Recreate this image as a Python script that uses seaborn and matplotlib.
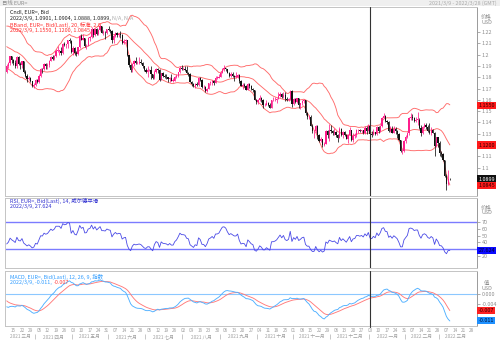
import numpy as np
import pandas as pd
import matplotlib
matplotlib.use("Agg")
import matplotlib.pyplot as plt
import matplotlib.transforms as mtransforms
import seaborn as sns

# ---------------- data ----------------
# warm-up closes 2021-01-04 .. 2021-03-08 (feed the indicators, not drawn)
warmup_closes = [
    1.2250, 1.2295, 1.2325, 1.2270, 1.2220,
    1.2150, 1.2205, 1.2155, 1.2155, 1.2080,
    1.2075, 1.2130, 1.2105, 1.2165, 1.2170,
    1.2140, 1.2160, 1.2110, 1.2125, 1.2135,
    1.2060, 1.2040, 1.2035, 1.1965, 1.2045,
    1.2050, 1.2120, 1.2120, 1.2130, 1.2120,
    1.2130, 1.2105, 1.2040, 1.2090, 1.2120,
    1.2155, 1.2150, 1.2165, 1.2175, 1.2075,
    1.2045, 1.2090, 1.2065, 1.1970, 1.1915,
    1.1845,
]

# daily closes 2021-03-09 .. 2022-03-09 (business days)
closes = [
    1.1900, 1.1925, 1.1985, 1.1952,
    1.1930, 1.1900, 1.1977, 1.1915, 1.1905,
    1.1940, 1.1850, 1.1815, 1.1780, 1.1795,
    1.1765, 1.1720, 1.1730, 1.1775, 1.1760,
    1.1815, 1.1875, 1.1870, 1.1915, 1.1900,
    1.1910, 1.1945, 1.1980, 1.1965, 1.1985,
    1.2035, 1.2035, 1.2035, 1.2015, 1.2095,
    1.2085, 1.2090, 1.2125, 1.2120, 1.2020,
    1.2060, 1.2015, 1.2005, 1.2065, 1.2165,
    1.2130, 1.2150, 1.2075, 1.2080, 1.2145,
    1.2155, 1.2225, 1.2175, 1.2225, 1.2180,
    1.2215, 1.2250, 1.2195, 1.2195, 1.2190,
    1.2225, 1.2215, 1.2210, 1.2125, 1.2165,
    1.2190, 1.2170, 1.2180, 1.2175, 1.2105,
    1.2120, 1.2125, 1.1995, 1.1905, 1.1860,
    1.1915, 1.1940, 1.1925, 1.1930, 1.1935,
    1.1925, 1.1895, 1.1860, 1.1850, 1.1865,
    1.1865, 1.1825, 1.1790, 1.1845, 1.1875,
    1.1860, 1.1775, 1.1835, 1.1810, 1.1805,
    1.1800, 1.1780, 1.1795, 1.1770, 1.1770,
    1.1800, 1.1815, 1.1845, 1.1885, 1.1870,
    1.1870, 1.1865, 1.1835, 1.1830, 1.1760,
    1.1740, 1.1720, 1.1740, 1.1730, 1.1795,
    1.1775, 1.1710, 1.1710, 1.1675, 1.1700,
    1.1745, 1.1755, 1.1770, 1.1750, 1.1795,
    1.1795, 1.1805, 1.1840, 1.1875, 1.1880,
    1.1870, 1.1840, 1.1815, 1.1825, 1.1815,
    1.1805, 1.1805, 1.1820, 1.1765, 1.1725,
    1.1730, 1.1725, 1.1690, 1.1740, 1.1720,
    1.1695, 1.1685, 1.1600, 1.1580, 1.1595,
    1.1620, 1.1600, 1.1555, 1.1555, 1.1570,
    1.1550, 1.1530, 1.1595, 1.1595, 1.1600,
    1.1610, 1.1630, 1.1650, 1.1625, 1.1645,
    1.1605, 1.1595, 1.1605, 1.1680, 1.1560,
    1.1605, 1.1580, 1.1615, 1.1555, 1.1570,
    1.1590, 1.1595, 1.1480, 1.1445, 1.1445,
    1.1370, 1.1320, 1.1320, 1.1370, 1.1290,
    1.1235, 1.1250, 1.1200, 1.1210, 1.1320,
    1.1290, 1.1335, 1.1320, 1.1305, 1.1315,
    1.1285, 1.1265, 1.1345, 1.1290, 1.1315,
    1.1285, 1.1255, 1.1290, 1.1330, 1.1240,
    1.1280, 1.1285, 1.1330, 1.1330, 1.1320,
    1.1330, 1.1310, 1.1350, 1.1325, 1.1370,
    1.1295, 1.1285, 1.1315, 1.1295, 1.1360,
    1.1325, 1.1365, 1.1440, 1.1455, 1.1410,
    1.1405, 1.1325, 1.1345, 1.1310, 1.1345,
    1.1325, 1.1300, 1.1240, 1.1145, 1.1145,
    1.1235, 1.1270, 1.1305, 1.1440, 1.1450,
    1.1440, 1.1415, 1.1425, 1.1425, 1.1350,
    1.1305, 1.1360, 1.1375, 1.1360, 1.1320,
    1.1305, 1.1330, 1.1310, 1.1195, 1.1270,
    1.1220, 1.1125, 1.1120, 1.1065, 1.0930,
    1.0855, 1.0900, 1.0899,
]

highs = [
    1.1915, 1.1935, 1.1990, 1.1990,
    1.1960, 1.1950, 1.1985, 1.1990, 1.1935,
    1.1945, 1.1945, 1.1860, 1.1830, 1.1810,
    1.1800, 1.1770, 1.1750, 1.1785, 1.1780,
    1.1825, 1.1880, 1.1885, 1.1925, 1.1930,
    1.1925, 1.1950, 1.1990, 1.1995, 1.1995,
    1.2050, 1.2080, 1.2040, 1.2070, 1.2100,
    1.2115, 1.2095, 1.2130, 1.2150, 1.2125,
    1.2075, 1.2070, 1.2030, 1.2070, 1.2170,
    1.2180, 1.2180, 1.2150, 1.2095, 1.2155,
    1.2165, 1.2245, 1.2230, 1.2235, 1.2235,
    1.2225, 1.2265, 1.2255, 1.2215, 1.2205,
    1.2230, 1.2255, 1.2230, 1.2215, 1.2185,
    1.2200, 1.2200, 1.2195, 1.2210, 1.2180,
    1.2135, 1.2140, 1.2130, 1.2000, 1.1920,
    1.1925, 1.1955, 1.1975, 1.1945, 1.1975,
    1.1960, 1.1935, 1.1900, 1.1885, 1.1895,
    1.1875, 1.1895, 1.1830, 1.1865, 1.1880,
    1.1880, 1.1870, 1.1840, 1.1850, 1.1825,
    1.1830, 1.1805, 1.1805, 1.1830, 1.1790,
    1.1810, 1.1830, 1.1850, 1.1895, 1.1910,
    1.1890, 1.1895, 1.1900, 1.1845, 1.1840,
    1.1765, 1.1745, 1.1745, 1.1755, 1.1800,
    1.1800, 1.1780, 1.1730, 1.1720, 1.1705,
    1.1750, 1.1765, 1.1775, 1.1775, 1.1810,
    1.1810, 1.1830, 1.1855, 1.1880, 1.1910,
    1.1885, 1.1875, 1.1845, 1.1845, 1.1845,
    1.1820, 1.1845, 1.1830, 1.1825, 1.1775,
    1.1750, 1.1745, 1.1735, 1.1750, 1.1745,
    1.1735, 1.1705, 1.1690, 1.1610, 1.1610,
    1.1640, 1.1625, 1.1605, 1.1575, 1.1595,
    1.1580, 1.1570, 1.1600, 1.1625, 1.1625,
    1.1620, 1.1665, 1.1665, 1.1660, 1.1670,
    1.1665, 1.1625, 1.1620, 1.1690, 1.1690,
    1.1615, 1.1615, 1.1620, 1.1620, 1.1575,
    1.1595, 1.1610, 1.1600, 1.1495, 1.1465,
    1.1465, 1.1385, 1.1335, 1.1375, 1.1375,
    1.1300, 1.1275, 1.1255, 1.1230, 1.1330,
    1.1330, 1.1385, 1.1380, 1.1335, 1.1350,
    1.1320, 1.1295, 1.1355, 1.1350, 1.1325,
    1.1325, 1.1300, 1.1295, 1.1360, 1.1335,
    1.1305, 1.1305, 1.1345, 1.1345, 1.1340,
    1.1335, 1.1335, 1.1370, 1.1370, 1.1385,
    1.1375, 1.1320, 1.1345, 1.1315, 1.1365,
    1.1365, 1.1375, 1.1450, 1.1480, 1.1465,
    1.1425, 1.1410, 1.1365, 1.1370, 1.1365,
    1.1355, 1.1330, 1.1305, 1.1245, 1.1165,
    1.1240, 1.1285, 1.1315, 1.1450, 1.1485,
    1.1470, 1.1445, 1.1450, 1.1495, 1.1440,
    1.1375, 1.1370, 1.1395, 1.1395, 1.1375,
    1.1395, 1.1360, 1.1345, 1.1315, 1.1275,
    1.1275, 1.1235, 1.1150, 1.1125, 1.1070,
    1.0945, 1.0975, 1.0904,
]

lows = [
    1.1835, 1.1880, 1.1910, 1.1930,
    1.1910, 1.1885, 1.1885, 1.1905, 1.1875,
    1.1880, 1.1840, 1.1805, 1.1760, 1.1775,
    1.1760, 1.1710, 1.1705, 1.1725, 1.1745,
    1.1745, 1.1800, 1.1835, 1.1865, 1.1870,
    1.1875, 1.1890, 1.1940, 1.1955, 1.1950,
    1.1975, 1.2020, 1.2000, 1.1995, 1.2005,
    1.2075, 1.2060, 1.2060, 1.2105, 1.2015,
    1.2000, 1.1995, 1.1985, 1.2000, 1.2055,
    1.2125, 1.2125, 1.2070, 1.2050, 1.2075,
    1.2120, 1.2150, 1.2155, 1.2165, 1.2170,
    1.2175, 1.2210, 1.2190, 1.2175, 1.2135,
    1.2185, 1.2205, 1.2195, 1.2105, 1.2105,
    1.2155, 1.2160, 1.2160, 1.2145, 1.2095,
    1.2090, 1.2090, 1.1985, 1.1890, 1.1845,
    1.1845, 1.1895, 1.1915, 1.1915, 1.1920,
    1.1915, 1.1885, 1.1855, 1.1835, 1.1805,
    1.1855, 1.1780, 1.1780, 1.1780, 1.1840,
    1.1835, 1.1770, 1.1775, 1.1805, 1.1795,
    1.1785, 1.1760, 1.1755, 1.1765, 1.1755,
    1.1765, 1.1790, 1.1800, 1.1840, 1.1860,
    1.1860, 1.1855, 1.1825, 1.1815, 1.1755,
    1.1725, 1.1710, 1.1705, 1.1720, 1.1725,
    1.1765, 1.1705, 1.1695, 1.1665, 1.1665,
    1.1695, 1.1730, 1.1735, 1.1735, 1.1745,
    1.1780, 1.1790, 1.1800, 1.1835, 1.1855,
    1.1855, 1.1835, 1.1800, 1.1805, 1.1805,
    1.1770, 1.1795, 1.1790, 1.1750, 1.1720,
    1.1700, 1.1715, 1.1685, 1.1685, 1.1705,
    1.1690, 1.1670, 1.1595, 1.1565, 1.1565,
    1.1585, 1.1580, 1.1530, 1.1545, 1.1550,
    1.1545, 1.1525, 1.1525, 1.1585, 1.1585,
    1.1570, 1.1605, 1.1625, 1.1620, 1.1620,
    1.1590, 1.1590, 1.1585, 1.1595, 1.1535,
    1.1555, 1.1570, 1.1570, 1.1530, 1.1515,
    1.1555, 1.1575, 1.1465, 1.1430, 1.1430,
    1.1365, 1.1310, 1.1265, 1.1310, 1.1250,
    1.1225, 1.1225, 1.1185, 1.1195, 1.1205,
    1.1260, 1.1235, 1.1305, 1.1290, 1.1290,
    1.1270, 1.1230, 1.1260, 1.1280, 1.1265,
    1.1280, 1.1250, 1.1220, 1.1285, 1.1235,
    1.1225, 1.1265, 1.1270, 1.1310, 1.1315,
    1.1310, 1.1300, 1.1295, 1.1300, 1.1320,
    1.1285, 1.1275, 1.1285, 1.1285, 1.1290,
    1.1305, 1.1315, 1.1360, 1.1435, 1.1400,
    1.1385, 1.1315, 1.1315, 1.1305, 1.1305,
    1.1295, 1.1265, 1.1235, 1.1140, 1.1120,
    1.1140, 1.1215, 1.1260, 1.1290, 1.1420,
    1.1420, 1.1400, 1.1400, 1.1375, 1.1340,
    1.1280, 1.1300, 1.1350, 1.1345, 1.1315,
    1.1300, 1.1290, 1.1305, 1.1105, 1.1185,
    1.1180, 1.1105, 1.1090, 1.1055, 1.0920,
    1.0805, 1.0850, 1.0888,
]
last_open = 1.0901

start_date = "2021-03-09"
end_date = "2022-03-28"
cursor_date = "2022-01-03"
month_names = ["一月", "二月", "三月", "四月", "五月", "六月",
               "七月", "八月", "九月", "十月", "十一月", "十二月"]

main_ticks = [1.10, 1.11, 1.13, 1.14, 1.15, 1.16, 1.17, 1.18, 1.19, 1.20, 1.21, 1.22]
rsi_ticks = [20, 40, 50, 60, 70]
macd_ticks = [0.000, -0.004]

bb_last = [1.1550, 1.1200, 1.0845]
price_last = 1.0899
rsi_last = 27.624
macd_last = -0.011
signal_last = -0.007

# ---------------- indicators ----------------
n = min(len(closes), len(highs), len(lows))
closes, highs, lows = closes[:n], highs[:n], lows[:n]
all_close = pd.Series(warmup_closes + closes)
w = len(warmup_closes)
mid = all_close.rolling(20).mean()
sd = all_close.rolling(20).std(ddof=0)
upper = (mid + 2 * sd).iloc[w:].to_numpy()
lower = (mid - 2 * sd).iloc[w:].to_numpy()
mid = mid.iloc[w:].to_numpy()

delta = all_close.diff()
gain = delta.clip(lower=0).ewm(alpha=1 / 14, adjust=False).mean()
loss = (-delta.clip(upper=0)).ewm(alpha=1 / 14, adjust=False).mean()
rsi = (100 - 100 / (1 + gain / loss)).iloc[w:].to_numpy()

ema12 = all_close.ewm(span=12, adjust=False).mean()
ema26 = all_close.ewm(span=26, adjust=False).mean()
macd_s = ema12 - ema26
sig_s = macd_s.ewm(span=9, adjust=False).mean()
macd = macd_s.iloc[w:].to_numpy()
sig = sig_s.iloc[w:].to_numpy()

opens = [warmup_closes[-1]] + closes[:-1]
opens[-1] = last_open

dates = pd.bdate_range(start_date, end_date)
idx = np.arange(n)
cursor_idx = int(np.where(dates == pd.Timestamp(cursor_date))[0][0])

# ---------------- style ----------------
sns.set_theme(style="white")
plt.rcParams["font.family"] = ["Noto Sans CJK SC", "DejaVu Sans"]
plt.rcParams["axes.unicode_minus"] = False

W, H = 500, 340
fig = plt.figure(figsize=(W / 100, H / 100), dpi=100)
fig.patch.set_facecolor("white")
renderer = fig.canvas.get_renderer()


def rect(x0, y0, x1, y1):
    return [x0 / W, 1 - y1 / H, (x1 - x0) / W, (y1 - y0) / H]


def ftext(x, y, s, **kw):
    return fig.text(x / W, 1 - y / H, s, **kw)


def pieces(x, y, parts, **kw):
    """Draw consecutive coloured text pieces on one line."""
    for s, col in parts:
        t = ftext(x, y, s, color=col, **kw)
        bb = t.get_window_extent(renderer=renderer)
        x += bb.width + 1.5


UP = "#ff1e8c"
DOWN = "#111111"
BB = "#ff6b6b"
GRAY = "#8c8c8c"
SPINE = "#c4c4c4"
XL = (-1, 277)
FS = 3.9

# header bar
fig.patches.append(plt.Rectangle((0, 1 - 6 / H), 1, 6 / H, transform=fig.transFigure,
                                 fc="#efefef", ec="none", zorder=0))
ftext(2, 3.2, "日线 EUR=", fontsize=FS, color=GRAY, va="center")
ftext(497, 3.2, "2021/3/9 - 2022/3/28 (GMT)", fontsize=FS, color="#aaaaaa", va="center", ha="right")

ax = fig.add_axes(rect(5, 7, 477, 196))
ax_rsi = fig.add_axes(rect(5, 198, 477, 268))
ax_macd = fig.add_axes(rect(5, 271, 477, 326))
ax_x = fig.add_axes(rect(5, 326, 477, 340))

for a in (ax, ax_rsi, ax_macd):
    a.set_facecolor("white")
    a.set_xlim(*XL)
    a.set_xticks([])
    for s in a.spines.values():
        s.set_color(SPINE)
        s.set_linewidth(0.7)
    a.spines["right"].set_color("#9a9a9a")
    a.yaxis.tick_right()
    a.tick_params(axis="y", labelsize=FS, colors=GRAY, length=2, width=0.5, pad=1.5,
                  right=True, left=False)
    a.axvline(cursor_idx, color="#333333", lw=0.8, zorder=5)

# ---- main price panel ----
o = np.array(opens)
c = np.array(closes)
h = np.array(highs)
l = np.array(lows)
up = c >= o
cols = np.where(up, UP, DOWN)
ax.vlines(idx, l, h, colors=cols, linewidth=0.55, zorder=3)
ax.bar(idx, np.maximum(np.abs(c - o), 0.0003), bottom=np.minimum(o, c), width=0.72,
       color=cols, linewidth=0, zorder=4)

bb_df = pd.DataFrame({"idx": idx, "upper": upper, "mid": mid, "lower": lower})
for colname in ["upper", "mid", "lower"]:
    sns.lineplot(data=bb_df, x="idx", y=colname, ax=ax, color=BB, linewidth=0.65,
                 legend=False, zorder=2)
ax.set_xlabel("")
ax.set_ylabel("")
ax.set_ylim(1.0749, 1.2421)
ax.set_yticks(main_ticks)
ax.set_yticklabels([f"{v:g}" for v in main_ticks])
ax.set_xlim(*XL)

ftext(10, 12.5, "Cndl, EUR=, Bid", fontsize=FS, color="#222222", va="center")
pieces(10, 18.5, [("2022/3/9, 1.0901, 1.0904, 1.0888, 1.0899,", "#222222"),
                  ("N/A, N/A", "#aaaaaa")], fontsize=FS, va="center")
ftext(10, 24.5, "BBand, EUR=, Bid(Last), 20, 标准, 2.0", fontsize=FS, color="#ff2a2a", va="center")
ftext(10, 30.5, "2022/3/9, 1.1550, 1.1200, 1.0845", fontsize=FS, color="#ff2a2a", va="center")
ftext(481, 16, "价格", fontsize=FS, color=GRAY, va="center")
ftext(481, 23, "USD", fontsize=FS, color=GRAY, va="center")


def box(a, y, text, fc, tc):
    trans = mtransforms.blended_transform_factory(a.transAxes, a.transData)
    a.text(1.003, y, text, transform=trans, fontsize=FS, color=tc, va="center", ha="left",
           bbox=dict(boxstyle="square,pad=0.2", fc=fc, ec="none"), clip_on=False, zorder=10)


box(ax, bb_last[0], "1.1550", "#ff1a1a", "#330000")
box(ax, bb_last[1], "1.1200", "#ff1a1a", "#330000")
box(ax, price_last, "1.0899", "#111111", "white")
box(ax, bb_last[2], "1.0845", "#ff1a1a", "#330000")

# ---- RSI panel ----
rsi_df = pd.DataFrame({"idx": idx, "rsi": rsi})
ax_rsi.axhline(70, color="#7b7bff", lw=1.0, zorder=2)
ax_rsi.axhline(30, color="#7b7bff", lw=1.0, zorder=2)
sns.lineplot(data=rsi_df, x="idx", y="rsi", ax=ax_rsi, color="#4a4ae6", linewidth=0.6,
             legend=False, zorder=3)
ax_rsi.set_xlabel("")
ax_rsi.set_ylabel("")
ax_rsi.set_ylim(1.9, 105.6)
ax_rsi.set_yticks(rsi_ticks)
ax_rsi.set_yticklabels([str(v) for v in rsi_ticks])
ax_rsi.set_xlim(*XL)
ftext(10, 201, "RSI, EUR=, Bid(Last), 14, 威尔德平滑", fontsize=FS, color="#3030d0", va="center")
ftext(10, 206.5, "2022/3/9, 27.624", fontsize=FS, color="#3030d0", va="center")
ftext(481, 207, "价格", fontsize=FS, color=GRAY, va="center")
ftext(481, 213, "USD", fontsize=FS, color=GRAY, va="center")
box(ax_rsi, rsi_last, "27.624", "#0a0aff", "#000033")

# ---- MACD panel ----
macd_df = pd.DataFrame({"idx": idx, "macd": macd, "signal": sig})
ax_macd.axhline(0, color="#8cc8ff", lw=0.8, zorder=2)
sns.lineplot(data=macd_df, x="idx", y="signal", ax=ax_macd, color="#ff7a7a", linewidth=0.65,
             legend=False, zorder=3)
sns.lineplot(data=macd_df, x="idx", y="macd", ax=ax_macd, color="#4fb0ff", linewidth=0.65,
             legend=False, zorder=4)
ax_macd.set_xlabel("")
ax_macd.set_ylabel("")
ax_macd.set_ylim(-0.0133, 0.0096)
ax_macd.set_yticks(macd_ticks)
ax_macd.set_yticklabels([f"{v:.3f}" for v in macd_ticks])
ax_macd.set_xlim(*XL)
ftext(10, 277, "MACD, EUR=, Bid(Last), 12, 26, 9, 指数", fontsize=FS, color="#2f9cff", va="center")
pieces(10, 282.5, [("2022/3/9, -0.011,", "#2f9cff"), ("-0.007", "#ff4040")],
       fontsize=FS, va="center")
ftext(484, 283, "值", fontsize=FS, color=GRAY, va="center")
ftext(481, 289, "USD", fontsize=FS, color=GRAY, va="center")
box(ax_macd, signal_last, "-0.007", "#ff2020", "#330000")
box(ax_macd, macd_last, "-0.011", "#1e90ff", "#001133")

# ---- date axis ----
ax_x.set_xlim(*XL)
ax_x.set_ylim(0, 1)
ax_x.axis("off")
ax_x.axvline(cursor_idx, ymin=0.9, ymax=1, color="#333333", lw=0.8)
for i, d in enumerate(dates):
    if d.weekday() == 0 and XL[0] < i < XL[1]:
        ax_x.text(i, 0.68, f"{d.day:02d}", fontsize=3.4, color="#a0a0a0", ha="center", va="center")
months = pd.Series(np.arange(len(dates)), index=dates).groupby([dates.year, dates.month])
for (yy, mm), s in months:
    a0 = max(s.iloc[0] - 0.5, XL[0])
    a1 = min(s.iloc[-1] + 0.5, XL[1])
    ax_x.text((a0 + a1) / 2, 0.22, f"{yy} {month_names[mm - 1]}", fontsize=3.4,
              color="#a0a0a0", ha="center", va="center")
    if s.iloc[0] > 0:
        ax_x.vlines(s.iloc[0] - 0.5, 0.05, 0.4, color="#b0b0b0", lw=0.5)

fig.savefig("out.png", dpi=100, facecolor="white")
